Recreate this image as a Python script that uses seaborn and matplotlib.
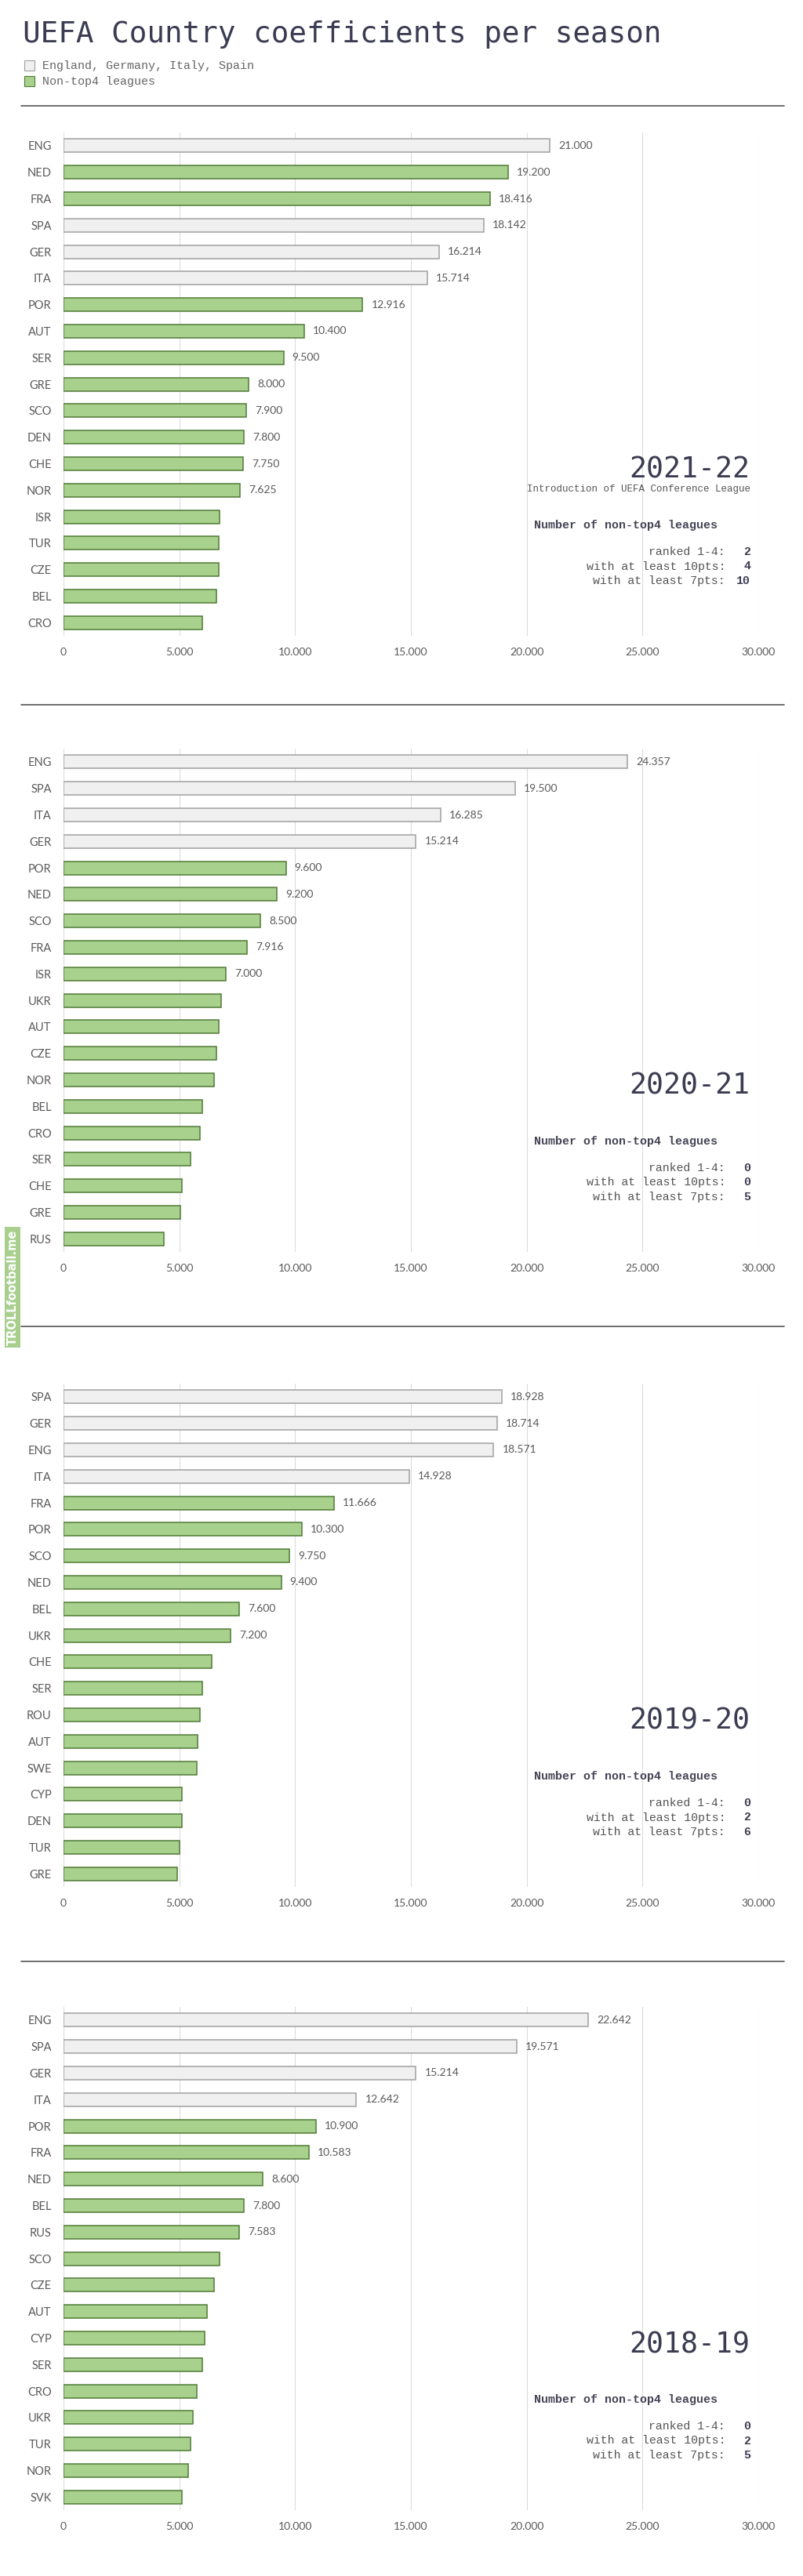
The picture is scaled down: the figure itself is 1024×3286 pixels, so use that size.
import numpy as np
import pandas as pd
import seaborn as sns
import matplotlib.pyplot as plt
from matplotlib.lines import Line2D
from matplotlib.patches import Rectangle
from matplotlib.colors import to_rgb
from matplotlib.ticker import FuncFormatter

# data per season (coefficients, sorted as in the chart)
seasons = ["2021-22", "2020-21", "2019-20", "2018-19"]

countries_2122 = ["ENG", "NED", "FRA", "SPA", "GER", "ITA", "POR", "AUT", "SER", "GRE",
                  "SCO", "DEN", "CHE", "NOR", "ISR", "TUR", "CZE", "BEL", "CRO"]
values_2122 = [21.000, 19.200, 18.416, 18.142, 16.214, 15.714, 12.916, 10.400, 9.500, 8.000,
               7.900, 7.800, 7.750, 7.625, 6.750, 6.700, 6.700, 6.600, 6.000]

countries_2021 = ["ENG", "SPA", "ITA", "GER", "POR", "NED", "SCO", "FRA", "ISR", "UKR",
                  "AUT", "CZE", "NOR", "BEL", "CRO", "SER", "CHE", "GRE", "RUS"]
values_2021 = [24.357, 19.500, 16.285, 15.214, 9.600, 9.200, 8.500, 7.916, 7.000, 6.800,
               6.700, 6.600, 6.500, 6.000, 5.875, 5.500, 5.100, 5.050, 4.333]

countries_1920 = ["SPA", "GER", "ENG", "ITA", "FRA", "POR", "SCO", "NED", "BEL", "UKR",
                  "CHE", "SER", "ROU", "AUT", "SWE", "CYP", "DEN", "TUR", "GRE"]
values_1920 = [18.928, 18.714, 18.571, 14.928, 11.666, 10.300, 9.750, 9.400, 7.600, 7.200,
               6.400, 6.000, 5.900, 5.800, 5.750, 5.100, 5.100, 5.000, 4.900]

countries_1819 = ["ENG", "SPA", "GER", "ITA", "POR", "FRA", "NED", "BEL", "RUS", "SCO",
                  "CZE", "AUT", "CYP", "SER", "CRO", "UKR", "TUR", "NOR", "SVK"]
values_1819 = [22.642, 19.571, 15.214, 12.642, 10.900, 10.583, 8.600, 7.800, 7.583, 6.750,
               6.500, 6.200, 6.100, 6.000, 5.750, 5.600, 5.500, 5.375, 5.100]

n_labeled = [14, 9, 10, 9]

# stats box: ranked 1-4, >=10pts, >=7pts
ranked_top4 = [2, 0, 0, 0]
at_least_10 = [4, 0, 2, 2]
at_least_7 = [10, 5, 6, 5]

top4 = ["ENG", "GER", "ITA", "SPA"]

GRAY_FILL, GRAY_EDGE = "#f0f0f0", "#a0a0a0"
GREEN_FILL, GREEN_EDGE = "#a9d18e", "#4f7a36"
TXT = "#595959"
NAVY = "#3b3b52"
MONO = "Liberation Mono"
HEAD = "DejaVu Sans Mono"

sns.set_style("white")
plt.rcParams['font.family'] = ['Lato', 'DejaVu Sans']

W, H = 1024, 3286
fig = plt.figure(figsize=(W / 100, H / 100), dpi=100)
fig.patch.set_facecolor("white")


def fx(x):
    return x / W


def fy(y):
    return 1 - y / H


# header
fig.text(fx(29), fy(54), "UEFA Country coefficients per season", family=HEAD,
         fontsize=27, color=NAVY, ha="left", va="baseline")
fig.add_artist(Rectangle((fx(31), fy(90)), 13 / W, 13 / H, transform=fig.transFigure,
                         facecolor=GRAY_FILL, edgecolor=GRAY_EDGE, lw=0.8))
fig.add_artist(Rectangle((fx(31), fy(110)), 13 / W, 13 / H, transform=fig.transFigure,
                         facecolor=GREEN_FILL, edgecolor=GREEN_EDGE, lw=0.8))
fig.text(fx(54), fy(84), "England, Germany, Italy, Spain", family=MONO, fontsize=10.8,
         color="#666666", va="center")
fig.text(fx(54), fy(104), "Non-top4 leagues", family=MONO, fontsize=10.8,
         color="#666666", va="center")

for y in [135, 899, 1692, 2502]:
    fig.add_artist(Line2D([fx(27), fx(1000)], [fy(y), fy(y)], transform=fig.transFigure,
                          color="#555555", lw=1.2))

# watermark
fig.text(fx(16), fy(1642), "TROLLfootball.me", rotation=90, ha="center", va="center",
         fontsize=10.5, fontweight="bold", color="white", family="DejaVu Sans",
         bbox=dict(boxstyle="square,pad=0.2", facecolor="#a9cf8f", edgecolor="none"))

all_countries = [countries_2122, countries_2021, countries_1920, countries_1819]
all_values = [values_2122, values_2021, values_1920, values_1819]
axes_top = [169, 955, 1765, 2560]
row_h = 33.8
ax_left, ax_right = 81, 967

green_rgb = np.array(to_rgb(GREEN_FILL))

for i, season in enumerate(seasons):
    countries = all_countries[i]
    values = all_values[i]
    n = len(countries)
    df = pd.DataFrame({"country": countries, "value": values})
    df["group"] = np.where(df["country"].isin(top4), "top4", "other")

    top = axes_top[i]
    bottom = top + n * row_h
    ax = fig.add_axes([fx(ax_left), fy(bottom), (ax_right - ax_left) / W, (bottom - top) / H])

    sns.barplot(data=df, x="value", y="country", hue="group", hue_order=["top4", "other"],
                palette={"top4": GRAY_FILL, "other": GREEN_FILL}, order=countries,
                dodge=False, width=0.5, saturation=1, legend=False, ax=ax)
    for bar in ax.patches:
        is_green = np.allclose(np.array(bar.get_facecolor()[:3]), green_rgb, atol=0.02)
        bar.set_edgecolor(GREEN_EDGE if is_green else GRAY_EDGE)
        bar.set_linewidth(1.1)

    for j in range(n_labeled[i]):
        ax.annotate(f"{values[j]:.3f}", xy=(values[j], j), xytext=(8, 0),
                    textcoords="offset points", ha="left", va="center",
                    fontsize=10, color=TXT)

    ax.set_xlim(0, 30)
    ax.set_ylim(n - 0.5, -0.5)
    ax.set_xticks(range(0, 31, 5))
    ax.xaxis.set_major_formatter(FuncFormatter(lambda v, _: "0" if v == 0 else f"{v:.3f}"))
    ax.xaxis.grid(True, color="#dcdcdc", lw=0.8)
    ax.yaxis.grid(False)
    ax.set_axisbelow(True)
    for s in ax.spines.values():
        s.set_visible(False)
    ax.tick_params(axis="x", length=0, pad=11, labelsize=10, labelcolor=TXT)
    ax.tick_params(axis="y", length=0, pad=11, labelsize=10.5, labelcolor=TXT)
    ax.set_xlabel("")
    ax.set_ylabel("")
    ax.patch.set_alpha(0)

    # season label and stats
    fig.text(fx(956), fy(top + 441), season, family=HEAD, fontsize=26.3,
             color=NAVY, ha="right", va="baseline")
    if i == 0:
        fig.text(fx(957), fy(top + 458), "Introduction of UEFA Conference League",
                 family=MONO, fontsize=9, color="#555555", ha="right", va="baseline")
    fig.text(fx(681), fy(top + 505), "Number of non-top4 leagues", family=MONO,
             fontsize=10.8, fontweight="bold", color="#444455", ha="left", va="baseline")
    labels = ["ranked 1-4:", "with at least 10pts:", "with at least 7pts:"]
    nums = [ranked_top4[i], at_least_10[i], at_least_7[i]]
    for k in range(3):
        yy = top + 539 + k * 18.5
        fig.text(fx(925), fy(yy), labels[k], family=MONO, fontsize=10.7, color="#555555",
                 ha="right", va="baseline")
        fig.text(fx(957), fy(yy), str(nums[k]), family=MONO, fontsize=10.7,
                 fontweight="bold", color=NAVY, ha="right", va="baseline")

fig.savefig("out.png", dpi=100, facecolor="white")
